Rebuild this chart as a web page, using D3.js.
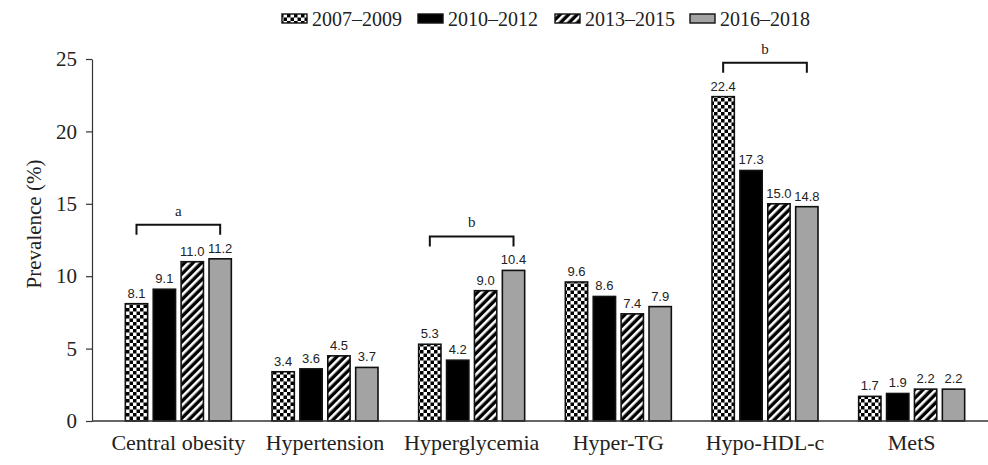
<!DOCTYPE html>
<html>
<head>
<meta charset="utf-8">
<script src="https://cdn.jsdelivr.net/npm/d3@7"></script>
<style>
  html, body { margin: 0; padding: 0; background: #fff; }
  svg { display: block; }
</style>
</head>
<body>
<svg id="chart" width="988" height="465"></svg>
<script>
// ---- data ----
const categories = ["Central obesity", "Hypertension", "Hyperglycemia", "Hyper-TG", "Hypo-HDL-c", "MetS"];
const periods = ["2007\u20132009", "2010\u20132012", "2013\u20132015", "2016\u20132018"];
const v2007 = [8.1, 3.4, 5.3, 9.6, 22.4, 1.7];
const v2010 = [9.1, 3.6, 4.2, 8.6, 17.3, 1.9];
const v2013 = [11.0, 4.5, 9.0, 7.4, 15.0, 2.2];
const v2016 = [11.2, 3.7, 10.4, 7.9, 14.8, 2.2];
const yTicks = [0, 5, 10, 15, 20, 25];
const brackets = [
  { category: "Central obesity", label: "a" },
  { category: "Hyperglycemia", label: "b" },
  { category: "Hypo-HDL-c", label: "b" }
];

const seriesValues = [v2007, v2010, v2013, v2016];

// ---- layout ----
const svg = d3.select("#chart");
const serif = "'Liberation Serif', 'Times New Roman', serif";
const sans = "'Liberation Sans', Arial, sans-serif";

const y = d3.scaleLinear().domain([0, 25]).range([421, 59]);
const x = d3.scaleBand().domain(categories).range([105, 985]).padding(0);
const xInner = d3.scaleBand().domain(periods).range([-53, 53]).paddingInner(0.2);

// ---- patterns ----
const defs = svg.append("defs");
const checker = defs.append("pattern").attr("id", "checker")
  .attr("patternUnits", "userSpaceOnUse").attr("width", 7).attr("height", 7);
checker.append("rect").attr("width", 7).attr("height", 7).attr("fill", "#fff");
checker.append("rect").attr("x", 0).attr("y", 0).attr("width", 3.5).attr("height", 3.5).attr("fill", "#000");
checker.append("rect").attr("x", 3.5).attr("y", 3.5).attr("width", 3.5).attr("height", 3.5).attr("fill", "#000");

const hatch = defs.append("pattern").attr("id", "hatch")
  .attr("patternUnits", "userSpaceOnUse").attr("width", 6).attr("height", 6)
  .attr("patternTransform", "rotate(45)");
hatch.append("rect").attr("width", 6).attr("height", 6).attr("fill", "#000");
hatch.append("rect").attr("x", 0).attr("y", 0).attr("width", 2.6).attr("height", 6).attr("fill", "#fff");

const fills = ["url(#checker)", "#000", "url(#hatch)", "#a3a3a3"];

// ---- bars ----
const rows = [];
categories.forEach((c, i) => {
  periods.forEach((p, j) => rows.push({ c, p, j, v: seriesValues[j][i] }));
});

const g = svg.append("g");
g.selectAll("rect.bar").data(rows).join("rect")
  .attr("class", "bar")
  .attr("x", d => x(d.c) + x.bandwidth() / 2 + xInner(d.p))
  .attr("y", d => y(d.v))
  .attr("width", xInner.bandwidth())
  .attr("height", d => y(0) - y(d.v))
  .attr("fill", d => fills[d.j])
  .attr("stroke", "#111")
  .attr("stroke-width", 1.6);

g.selectAll("text.val").data(rows).join("text")
  .attr("class", "val")
  .attr("x", d => x(d.c) + x.bandwidth() / 2 + xInner(d.p) + xInner.bandwidth() / 2)
  .attr("y", d => y(d.v) - 6)
  .attr("text-anchor", "middle")
  .attr("font-family", sans)
  .attr("font-size", 13)
  .attr("fill", "#222")
  .text(d => d.v.toFixed(1));

// ---- axes ----
const yAxis = svg.append("g").attr("transform", "translate(92,0)")
  .call(d3.axisLeft(y).tickValues(yTicks).tickSize(6).tickPadding(9).tickSizeOuter(0));
yAxis.selectAll("text").attr("font-family", serif).attr("font-size", 21).attr("fill", "#222");
yAxis.selectAll("line").attr("stroke", "#333").attr("stroke-width", 1.2);
yAxis.select(".domain").attr("stroke", "#333").attr("stroke-width", 1.2);

svg.append("line").attr("x1", 92).attr("x2", 988).attr("y1", y(0)).attr("y2", y(0))
  .attr("stroke", "#333").attr("stroke-width", 1.3);

svg.append("g").selectAll("text").data(categories).join("text")
  .attr("x", d => x(d) + x.bandwidth() / 2)
  .attr("y", 450)
  .attr("text-anchor", "middle")
  .attr("font-family", serif)
  .attr("font-size", 22)
  .attr("fill", "#222")
  .text(d => d);

svg.append("text")
  .attr("transform", "translate(41,224) rotate(-90)")
  .attr("text-anchor", "middle")
  .attr("font-family", serif)
  .attr("font-size", 21)
  .attr("fill", "#222")
  .text("Prevalence (%)");

// ---- brackets ----
brackets.forEach(b => {
  const i = categories.indexOf(b.category);
  const maxV = d3.max(seriesValues, s => s[i]);
  const top = y(maxV) - 34;
  const cx0 = x(b.category) + x.bandwidth() / 2 + xInner(periods[0]) + xInner.bandwidth() / 2;
  const cx1 = x(b.category) + x.bandwidth() / 2 + xInner(periods[3]) + xInner.bandwidth() / 2;
  svg.append("path")
    .attr("d", `M${cx0},${top + 10}V${top}H${cx1}V${top + 10}`)
    .attr("fill", "none").attr("stroke", "#111").attr("stroke-width", 2);
  svg.append("text")
    .attr("x", (cx0 + cx1) / 2).attr("y", top - 9)
    .attr("text-anchor", "middle")
    .attr("font-family", serif).attr("font-size", 15).attr("fill", "#222")
    .text(b.label);
});

// ---- legend ----
const legendX = [282, 418, 555, 690];
const legend = svg.append("g");
periods.forEach((p, j) => {
  legend.append("rect")
    .attr("x", legendX[j]).attr("y", 14).attr("width", 25).attr("height", 9)
    .attr("fill", fills[j]).attr("stroke", "#111").attr("stroke-width", 1.4);
  legend.append("text")
    .attr("x", legendX[j] + 30).attr("y", 26)
    .attr("font-family", serif).attr("font-size", 20).attr("fill", "#222")
    .text(p);
});
</script>
</body>
</html>
